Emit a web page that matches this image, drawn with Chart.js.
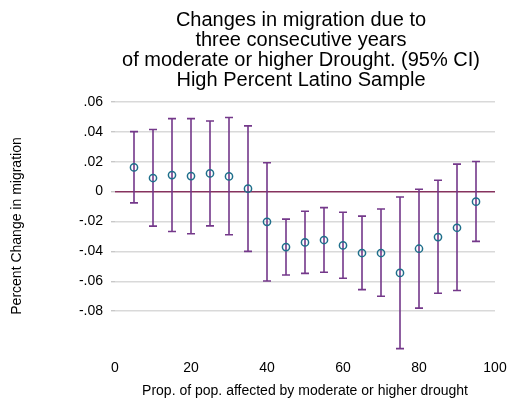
<!DOCTYPE html>
<html lang="en">
<head>
    <meta charset="UTF-8">
    <title>Changes in migration - High Percent Latino Sample</title>
    <script src="https://cdn.jsdelivr.net/npm/chart.js"></script>
    <style>
        body { margin: 0; background: #ffffff; }
        canvas { display: block; }
    </style>
</head>
<body>
    <canvas id="driftChart" width="508" height="404"></canvas>

    <script>
        // Proportion of population affected (bin midpoints)
        const droughtShare = [5, 10, 15, 20, 25, 30, 35, 40, 45, 50, 55, 60, 65, 70, 75, 80, 85, 90, 95];
        // Point estimates and 95% CI bounds
        const estimate = [0.0162, 0.0091, 0.0111, 0.0104, 0.0122, 0.0102, 0.0020, -0.0202, -0.0371, -0.0340,
                          -0.0324, -0.0360, -0.0411, -0.0411, -0.0544, -0.0382, -0.0304, -0.0242, -0.0067];
        const ciUpper = [0.0402, 0.0416, 0.0489, 0.0489, 0.0473, 0.0496, 0.0440, 0.0193, -0.0184, -0.0131,
                         -0.0107, -0.0138, -0.0164, -0.0116, -0.0036, 0.0016, 0.0076, 0.0184, 0.0202];
        const ciLower = [-0.0075, -0.0231, -0.0267, -0.0282, -0.0229, -0.0289, -0.0400, -0.0598, -0.0558, -0.0547,
                         -0.0540, -0.0580, -0.0656, -0.0700, -0.1051, -0.0780, -0.0680, -0.0662, -0.0333];

        const yTicks = [-0.08, -0.06, -0.04, -0.02, 0, 0.02, 0.04, 0.06];
        const xTicks = [0, 20, 40, 60, 80, 100];

        const titleLines = [
            'Changes in migration due to',
            'three consecutive years',
            'of moderate or higher Drought. (95% CI)',
            'High Percent Latino Sample'
        ];

        function stataLabel(v) {
            if (Math.abs(v) < 1e-9) return '0';
            return v.toFixed(2).replace(/^(-?)0\./, '$1.');
        }

        // draws the CI whiskers behind the markers
        const errorBars = {
            id: 'errorBars',
            beforeDatasetsDraw(chart) {
                const { ctx, scales: { x, y } } = chart;
                ctx.save();
                ctx.strokeStyle = '#74388a';
                ctx.lineWidth = 1.6;
                droughtShare.forEach((d, i) => {
                    const px = x.getPixelForValue(d);
                    const top = y.getPixelForValue(ciUpper[i]);
                    const bot = y.getPixelForValue(ciLower[i]);
                    ctx.beginPath();
                    ctx.moveTo(px, top); ctx.lineTo(px, bot);
                    ctx.moveTo(px - 4, top); ctx.lineTo(px + 4, top);
                    ctx.moveTo(px - 4, bot); ctx.lineTo(px + 4, bot);
                    ctx.stroke();
                });
                ctx.restore();
            }
        };

        // title centred over the plot region, like the original
        const plotTitle = {
            id: 'plotTitle',
            afterDraw(chart) {
                const { ctx, chartArea } = chart;
                const cx = (chartArea.left + chartArea.right) / 2;
                ctx.save();
                ctx.fillStyle = '#000000';
                ctx.font = '20px "Liberation Sans", Arial, sans-serif';
                ctx.textAlign = 'center';
                ctx.textBaseline = 'alphabetic';
                titleLines.forEach((line, i) => {
                    ctx.fillText(line, cx - 4, 26 + i * 20);
                });
                ctx.restore();
            }
        };

        const chart = new Chart(document.getElementById('driftChart'), {
            type: 'scatter',
            data: {
                datasets: [{
                    label: 'Estimate',
                    data: droughtShare.map((d, i) => ({ x: d, y: estimate[i] })),
                    pointStyle: 'circle',
                    pointRadius: 3.6,
                    pointBorderWidth: 1.5,
                    pointBorderColor: '#1f6f8b',
                    pointBackgroundColor: 'rgba(255,255,255,0)',
                    clip: false
                }]
            },
            plugins: [errorBars, plotTitle],
            options: {
                responsive: false,
                animation: false,
                devicePixelRatio: 1,
                layout: { padding: { top: 102, right: 0, bottom: 4, left: 0 } },
                plugins: {
                    legend: { display: false },
                    tooltip: { enabled: false }
                },
                scales: {
                    x: {
                        type: 'linear',
                        min: 0,
                        max: 100,
                        afterBuildTicks: (s) => { s.ticks = xTicks.map(v => ({ value: v })); },
                        afterFit: (s) => { s.height = 50; s.paddingRight = 13; s.paddingLeft = 0; },
                        grid: { display: false, drawTicks: false },
                        border: { display: false },
                        ticks: {
                            color: '#000000',
                            padding: 10,
                            font: { family: '"Liberation Sans", Arial, sans-serif', size: 14 }
                        },
                        title: {
                            display: true,
                            text: 'Prop. of pop. affected by moderate or higher drought',
                            color: '#000000',
                            padding: { top: 6, bottom: 0 },
                            font: { family: '"Liberation Sans", Arial, sans-serif', size: 14 }
                        }
                    },
                    y: {
                        min: -0.106,
                        max: 0.06,
                        afterBuildTicks: (s) => { s.ticks = yTicks.map(v => ({ value: v })); },
                        afterFit: (s) => { s.width = 115; },
                        grid: {
                            color: (c) => (c.tick && Math.abs(c.tick.value) < 1e-9) ? '#86325e' : '#d9d9d9',
                            lineWidth: 1.4,
                            drawTicks: true,
                            tickLength: 4,
                            tickColor: '#c8c8c8'
                        },
                        border: { display: false },
                        ticks: {
                            color: '#000000',
                            padding: 8,
                            callback: (v) => stataLabel(v),
                            font: { family: '"Liberation Sans", Arial, sans-serif', size: 14 }
                        },
                        title: {
                            display: true,
                            text: 'Percent Change in migration',
                            color: '#000000',
                            padding: { top: 9, bottom: 0 },
                            font: { family: '"Liberation Sans", Arial, sans-serif', size: 14 }
                        }
                    }
                }
            }
        });
    </script>
</body>
</html>
